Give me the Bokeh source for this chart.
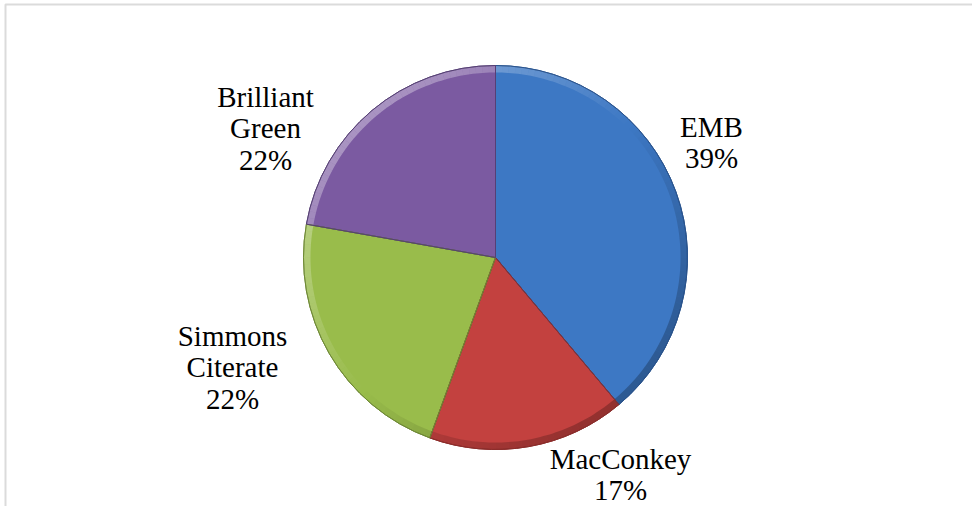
import math
from bokeh.plotting import figure
from bokeh.models import Range1d, BoxAnnotation, ColumnDataSource
from bokeh.core.properties import value
from bokeh.embed import file_html
from bokeh.resources import INLINE

# ---- data ----
categories = ["EMB", "MacConkey", "Simmons\nCiterate", "Brilliant\nGreen"]
counts = [7, 3, 4, 4]

# ---- styles / layout ----
colors = ["#3D78C4", "#C3413F", "#99BC4B", "#7B5AA1"]
edge_colors = ["#2A5590", "#8E2D2B", "#6F8A35", "#563F75"]
W, H = 972, 506
cx, cy, R = 495, H - 257, 192
# label block centres (pixels from top-left)
label_pos = [(711, 142), (620, 474), (232, 367), (265, 128)]

total = sum(counts)
fracs = [c / total for c in counts]
starts, ends = [], []
cum = 0.0
for f in fracs:
    # clockwise from 12 o'clock
    ends.append(math.pi / 2 - cum * 2 * math.pi)
    cum += f
    starts.append(math.pi / 2 - cum * 2 * math.pi)

p = figure(width=W, height=H, output_backend="svg", toolbar_location=None,
           x_range=Range1d(0, W), y_range=Range1d(0, H), min_border=0)
p.axis.visible = False
p.grid.visible = False
p.outline_line_color = None
p.background_fill_color = "white"
p.border_fill_color = "white"

# chart frame
p.add_layout(BoxAnnotation(left=5, right=W + 20, top=H - 4, bottom=-20,
                           fill_alpha=0, line_color="#888888", line_width=2))

src = ColumnDataSource(dict(start=starts, end=ends, color=colors, edge=edge_colors))
p.wedge(x=cx, y=cy, radius=R, start_angle="start", end_angle="end",
        fill_color="color", line_color="edge", line_width=1, source=src)

# bevel-like rim shading
rs, re, rc, ra = [], [], [], []
step = math.radians(2)
for s, e in zip(starts, ends):
    a = s
    while a < e - 1e-9:
        b = min(a + step, e)
        mid = (a + b) / 2
        light = math.cos(mid - math.radians(135))  # light from upper-left
        rs.append(a); re.append(b)
        if light > 0:
            rc.append("white"); ra.append(0.35 * light)
        else:
            rc.append("black"); ra.append(0.25 * -light)
        a = b
p.annular_wedge(x=cx, y=cy, inner_radius=R - 7, outer_radius=R,
                start_angle=rs, end_angle=re, fill_color=rc, fill_alpha=ra,
                line_color=None)
p.wedge(x=cx, y=cy, radius=R, start_angle="start", end_angle="end",
        fill_color=None, line_color="edge", line_width=1, source=src)

labels = [f"{c}\n{round(f * 100)}%" for c, f in zip(categories, fracs)]
lx = [q[0] for q in label_pos]
ly = [H - q[1] for q in label_pos]
p.text(x=lx, y=ly, text=labels, text_align="center", text_baseline="middle",
       text_font=value("Liberation Serif"), text_font_size="29px",
       text_line_height=0.97, text_color="black")

open("out.html", "w").write(file_html(p, INLINE))
